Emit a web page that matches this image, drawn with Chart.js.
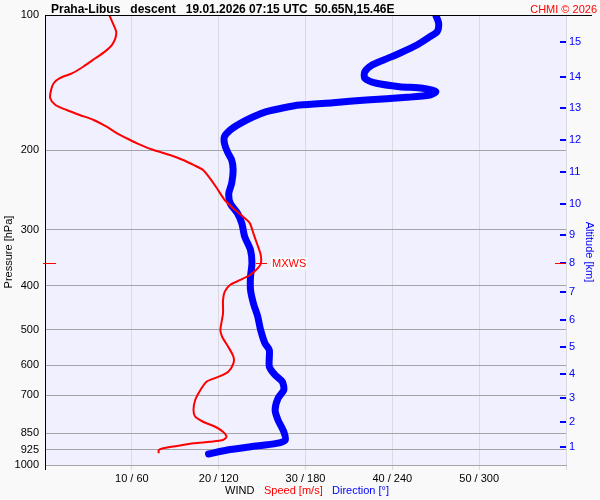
<!DOCTYPE html>
<html>
<head>
<meta charset="utf-8">
<script src="https://cdn.jsdelivr.net/npm/chart.js@4.4.1/dist/chart.umd.min.js"></script>
<style>
  html, body { margin: 0; padding: 0; background: #f9f9f9; }
  #wrap { position: relative; width: 600px; height: 500px; font-family: "Liberation Sans", Arial, sans-serif; }
  #wrap canvas { position: absolute; left: 0; top: 0; }
  .txt { position: absolute; white-space: pre; line-height: 1; }
  .vert { width: 100px; height: 12px; line-height: 12px; text-align: center; font-size: 11px; }
  .rot { transform: rotate(-90deg); }
  .rotR { transform: rotate(90deg); }
</style>
</head>
<body>
<div id="wrap">
  <canvas id="chart" width="600" height="500"></canvas>
  <div class="txt" style="left:51px; top:3px; font-size:12px; font-weight:bold; color:#000;">Praha-Libus   descent   19.01.2026 07:15 UTC  50.65N,15.46E</div>
  <div class="txt" style="right:3px; top:4px; font-size:11px; color:#ff0000;">CHMI © 2026</div>
  <div class="txt vert rot" style="left:-42px; top:246px; color:#000;">Pressure [hPa]</div>
  <div class="txt vert rotR" style="left:540px; top:246px; color:#0000ff;">Altitude [km]</div>
  <div class="txt" style="left:225px; top:485px; font-size:11px; color:#000;">WIND</div>
  <div class="txt" style="left:264px; top:485px; font-size:11px; color:#ff0000;">Speed [m/s]</div>
  <div class="txt" style="left:332px; top:485px; font-size:11px; color:#0000ff;">Direction [°]</div>
</div>
<script>
// wind speed profile (hPa, m/s)
const speedPressure = [100, 105.2, 108.9, 112.7, 116.6, 120.6, 124.8, 130.3, 134.8, 138.2, 141.8, 146.8, 153.1, 158.5, 162.6, 166.8, 171.1, 177.1, 183.2, 187.9, 192.8, 199.5, 204.7, 210.0, 215.4, 221.0, 230.7, 242.7, 257.7, 271.3, 280.7, 290.4, 305.6, 321.6, 338.5, 350.3, 359.2, 368.6, 378.2, 388.0, 398.1, 412.0, 430.0, 460.2, 501.2, 518.7, 546.0, 574.5, 594.3, 620.3, 636.5, 653.0, 681.3, 717.1, 754.8, 781.2, 801.5, 822.2, 843.5, 865.4, 880.1, 887.8, 895.1, 907.5, 918.3, 926.3, 941.9];
const speedValues = [7.4, 7.9, 8.2, 8.1, 7.7, 6.9, 5.8, 4.4, 3.1, 1.7, 1.0, 0.7, 0.6, 1.2, 2.5, 4.0, 5.6, 7.1, 8.3, 9.4, 10.6, 12.5, 14.4, 15.9, 17.1, 18.2, 19.0, 19.8, 20.7, 21.9, 22.8, 23.6, 24.0, 24.4, 24.8, 24.9, 24.8, 24.3, 23.6, 22.5, 21.3, 20.7, 20.5, 20.5, 20.2, 20.4, 21.1, 21.7, 21.7, 21.1, 20.0, 18.6, 17.9, 17.3, 17.1, 17.3, 18.2, 19.6, 20.5, 20.9, 20.5, 19.0, 17.1, 15.2, 13.6, 13.1, 13.1];

// wind direction profile (hPa, degrees)
const dirPressure = [100, 104.3, 108.9, 111.7, 116.6, 121.6, 125.9, 129.2, 133.7, 138.2, 141.8, 144.3, 145.5, 148.0, 150.6, 152.4, 154.5, 156.6, 158.5, 160.7, 164.0, 168.3, 174.1, 180.1, 186.4, 192.8, 201.3, 210.0, 221.0, 236.6, 249.0, 262.0, 275.8, 290.4, 311.0, 332.9, 356.2, 381.5, 408.4, 437.2, 468.1, 501.2, 536.6, 555.3, 604.4, 631.0, 653.0, 681.3, 710.9, 754.8, 794.3, 843.5, 880.1, 895.1, 910.8, 926.3, 945.4];
const dirValues = [270, 272, 271, 266, 257, 245, 234, 226, 221, 221, 229, 245, 261, 270, 266, 250, 222, 199, 176, 165, 153, 144, 135, 128, 124, 124, 126, 129, 130, 129, 127, 128, 133, 136, 138, 142, 143, 142, 142, 144, 147, 149, 152, 155, 155, 159, 164, 165, 161, 159, 161, 165, 166, 160, 142, 126, 113];

const pressureTicks = [100, 200, 300, 400, 500, 600, 700, 850, 925, 1000];
const altitudeKm = [1, 2, 3, 4, 5, 6, 7, 8, 9, 10, 11, 12, 13, 14, 15];
const altitudePressure = [912, 802, 710, 628, 547, 476, 413, 356, 308, 263, 223, 190, 161, 137, 115];
const speedTicks = [0, 10, 20, 30, 40, 50, 60];

// max wind level
const maxWindPressure = 356;
const maxWindSpeed = 24.9;

const RED = "#ff0000";
const BLUE = "#0000ff";

Chart.defaults.font.family = '"Liberation Sans", Arial, sans-serif';
Chart.defaults.font.size = 11;
Chart.defaults.color = "#000";

const decorPlugin = {
    id: "decor",
    beforeDraw(chart) {
        const { ctx, chartArea: a } = chart;
        ctx.save();
        ctx.fillStyle = "#f9f9f9";
        ctx.fillRect(0, 0, chart.width, chart.height);
        ctx.fillStyle = "#f0f0ff";
        ctx.fillRect(a.left, a.top, a.right - a.left, a.bottom - a.top);
        ctx.restore();
    },
    afterDraw(chart) {
        const { ctx, chartArea: a, scales } = chart;
        ctx.save();

        // top frame line
        ctx.strokeStyle = "#000";
        ctx.lineWidth = 1;
        ctx.beginPath();
        ctx.moveTo(a.left, a.top + 0.5);
        ctx.lineTo(592, a.top + 0.5);
        ctx.stroke();

        // altitude tick marks
        ctx.strokeStyle = BLUE;
        ctx.lineWidth = 2;
        scales.y2.ticks.forEach((t) => {
            const py = Math.round(scales.y2.getPixelForValue(t.value));
            ctx.beginPath();
            ctx.moveTo(a.right - 6, py);
            ctx.lineTo(a.right, py);
            ctx.stroke();
        });

        // max wind marker
        const py = Math.round(scales.y.getPixelForValue(maxWindPressure)) + 0.5;
        const px = Math.round(scales.x.getPixelForValue(maxWindSpeed));
        ctx.strokeStyle = RED;
        ctx.lineWidth = 1;
        ctx.beginPath();
        ctx.moveTo(a.left - 2, py);
        ctx.lineTo(a.left + 11, py);
        ctx.moveTo(a.right - 11, py);
        ctx.lineTo(a.right, py);
        ctx.moveTo(px - 5, py);
        ctx.lineTo(px + 6, py);
        ctx.stroke();

        ctx.font = '11px "Liberation Sans", Arial, sans-serif';
        const label = "MXWS";
        const w = ctx.measureText(label).width;
        ctx.fillStyle = "#ffffff";
        ctx.fillRect(px + 10, py - 6, w + 2, 12);
        ctx.fillStyle = RED;
        ctx.textBaseline = "middle";
        ctx.fillText(label, px + 11, py + 0.5);

        ctx.restore();
    },
};

new Chart(document.getElementById("chart"), {
    type: "line",
    data: {
        datasets: [
            {
                label: "Speed",
                data: speedPressure.map((p, i) => ({ x: speedValues[i], y: p })),
                xAxisID: "x",
                yAxisID: "y",
                borderColor: RED,
                borderWidth: 2,
                pointRadius: 0,
                tension: 0.25,
            },
            {
                label: "Direction",
                data: dirPressure.map((p, i) => ({ x: dirValues[i], y: p })),
                xAxisID: "xd",
                yAxisID: "y",
                borderColor: BLUE,
                borderWidth: 7,
                borderCapStyle: "round",
                borderJoinStyle: "round",
                pointRadius: 0,
                tension: 0.25,
            },
        ],
    },
    options: {
        responsive: false,
        animation: false,
        layout: { padding: { top: 15, left: 0, right: 0, bottom: 0 } },
        plugins: {
            legend: { display: false },
            tooltip: { enabled: false },
        },
        scales: {
            x: {
                type: "linear",
                position: "bottom",
                min: 0,
                max: 60,
                afterBuildTicks: (s) => {
                    s.ticks = speedTicks.map((v) => ({ value: v }));
                },
                afterFit: (s) => {
                    s.height = 35;
                },
                ticks: {
                    autoSkip: false,
                    maxRotation: 0,
                    padding: 2,
                    color: "#000",
                    callback: (v) => (v > 0 && v < 60 ? v + " / " + v * 6 : ""),
                },
                grid: {
                    color: (c) => (c.tick && c.tick.value === 0 ? "#000" : "#dadae0"),
                    tickLength: 5,
                },
                border: { color: "#a4a4a8" },
            },
            xd: {
                type: "linear",
                display: false,
                min: 0,
                max: 360,
            },
            y: {
                type: "logarithmic",
                position: "left",
                min: 100,
                max: 1000,
                reverse: true,
                afterBuildTicks: (s) => {
                    s.ticks = pressureTicks.map((v) => ({ value: v }));
                },
                afterFit: (s) => {
                    s.width = 45;
                },
                ticks: {
                    autoSkip: false,
                    padding: 6,
                    color: "#000",
                    callback: (v) => String(v),
                },
                grid: {
                    color: (c) => (c.tick && c.tick.value === 100 ? "#000" : "#a4a4a8"),
                    drawTicks: false,
                },
                border: { color: "#000" },
            },
            y2: {
                type: "logarithmic",
                position: "right",
                min: 100,
                max: 1000,
                reverse: true,
                afterBuildTicks: (s) => {
                    s.ticks = altitudePressure.map((v) => ({ value: v }));
                },
                afterFit: (s) => {
                    s.width = 34;
                },
                ticks: {
                    autoSkip: false,
                    padding: 3,
                    color: BLUE,
                    callback: (v) => String(altitudeKm[altitudePressure.indexOf(v)]),
                },
                grid: { display: false, drawTicks: false },
                border: { display: false },
            },
        },
    },
    plugins: [decorPlugin],
});
</script>
</body>
</html>
